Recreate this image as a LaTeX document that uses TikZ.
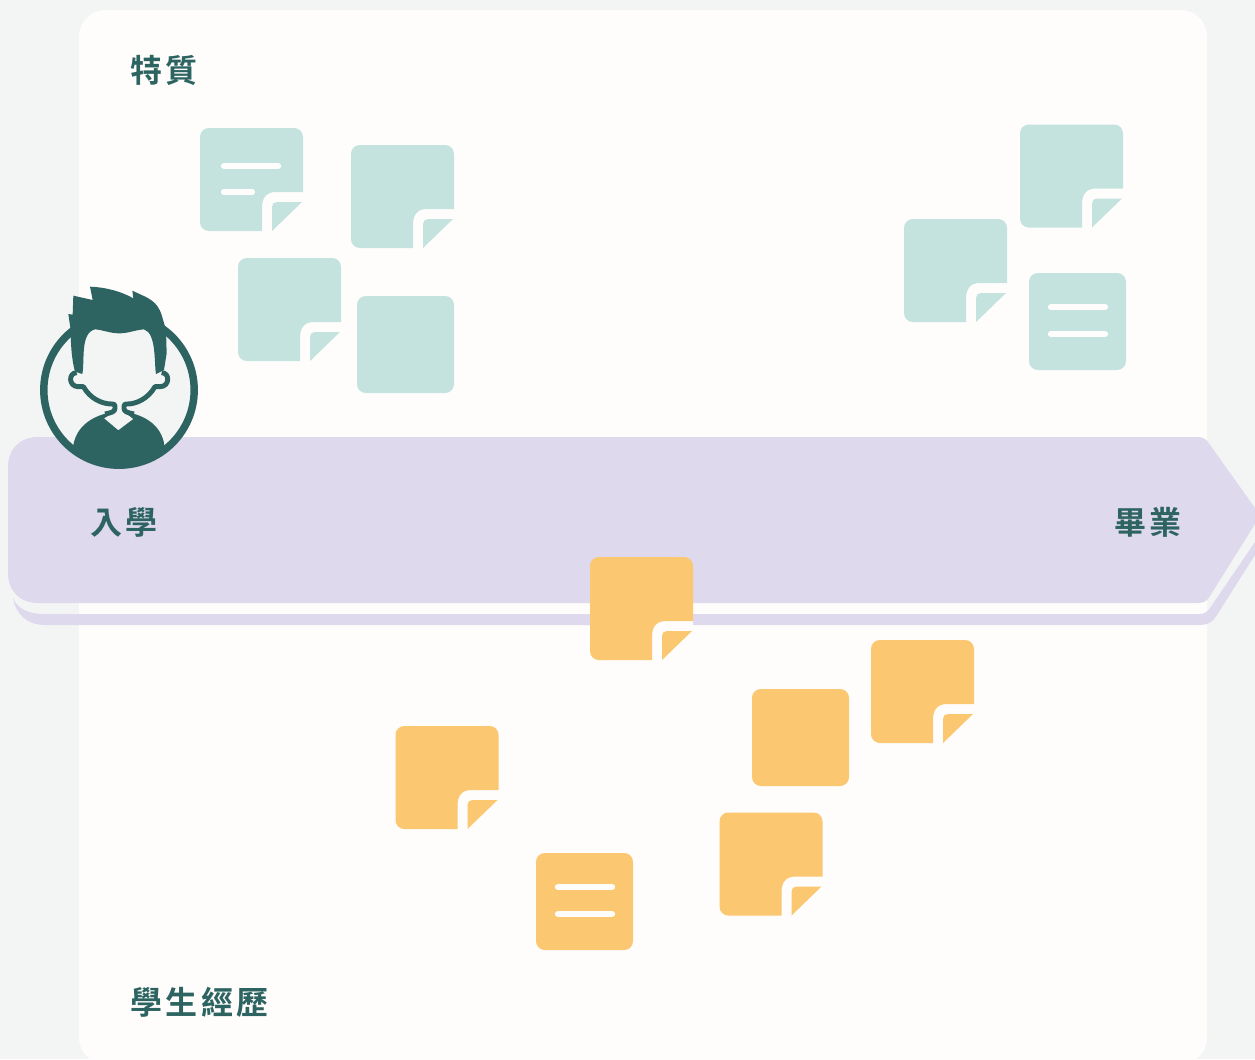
\documentclass[tikz,border=0pt]{standalone}
\usepackage{fontspec}
\newfontfamily\cjk[LetterSpace=11]{Noto Sans CJK TC Bold}
\definecolor{bgcolor}{HTML}{F3F5F4}
\definecolor{cardcolor}{HTML}{FEFDFB}
\definecolor{bandcolor}{HTML}{DED9ED}
\definecolor{tealnote}{HTML}{C4E3DE}
\definecolor{orangenote}{HTML}{FCC771}
\definecolor{darkteal}{HTML}{2D6461}
\tikzset{
	label/.style={text=darkteal, font=\cjk\fontsize{18.2}{18.2}\selectfont, anchor=west, inner sep=0pt},
	bar/.style={line width=3.6pt, line cap=round, draw=cardcolor},
	pics/foldnote/.style={code={
		\fill[cardcolor] (60,64) -- (103,64) -- (103,74) -- (72,104) -- (60,104) -- cycle;
		\fill[#1] (103,64) [rounded corners=5pt] -- (103,0) -- (0,0) -- (0,103) [sharp corners] -- (62,103)
			-- (62,80) .. controls (62,70) and (66,64) .. (76,64) -- cycle;
		\fill[#1] (72,103) -- (72,79) .. controls (72,76) and (74,74) .. (77,74) -- (102,74) -- cycle;
	}},
	pics/plainnote/.style={code={
		\fill[#1, rounded corners=5pt] (0,0) rectangle (97,97);
	}},
	pics/textnote/.style={code={
		\fill[#1, rounded corners=5pt] (0,0) rectangle (97,97);
		\draw[bar] (22,34) -- (76,34);
		\draw[bar] (22,61) -- (76,61);
	}},
}
\begin{document}
\begin{tikzpicture}[x=0.02cm, y=-0.02cm, line join=round]
	\useasboundingbox (0,0) rectangle (1255,1059);
	% Nen va the
	\fill[bgcolor] (0,0) rectangle (1255,1059);
	\fill[cardcolor, rounded corners=15pt] (79,10) rectangle (1207,1064);

	% Dai mui ten
	\fill[bandcolor] (13,598) .. controls (16,615) and (28,625) .. (45,625) -- (1200,625)
		.. controls (1207,625) and (1212,622) .. (1215,618) -- (1255,555) -- (1255,542) -- (1210,608)
		.. controls (1207,612) and (1204,614) .. (1200,614) -- (45,614)
		.. controls (30,614) and (18,610) .. (13,598) -- cycle;
	\fill[bandcolor] (38,437) -- (1197,437) .. controls (1202,437) and (1205,438) .. (1208,442)
		-- (1255,508) -- (1255,524) -- (1210,596)
		.. controls (1207,601) and (1204,603) .. (1198,603) -- (38,603)
		.. controls (20,603) and (8,591) .. (8,573) -- (8,467)
		.. controls (8,449) and (20,437) .. (38,437) -- cycle;

	% Cac the xanh
	\pic at (200,128) {foldnote=tealnote};
	\draw[bar] (224,166) -- (278,166);
	\draw[bar] (224,192) -- (252,192);
	\pic at (351,145) {foldnote=tealnote};
	\pic at (238,258) {foldnote=tealnote};
	\pic at (357,296) {plainnote=tealnote};
	\pic at (1020,124.5) {foldnote=tealnote};
	\pic at (904,219) {foldnote=tealnote};
	\pic at (1029,273) {textnote=tealnote};

	% Cac the cam
	\pic at (590,557) {foldnote=orangenote};
	\pic at (871,640) {foldnote=orangenote};
	\pic at (395.5,726) {foldnote=orangenote};
	\pic at (719.5,812.5) {foldnote=orangenote};
	\pic at (752,689) {plainnote=orangenote};
	\pic at (536,853) {textnote=orangenote};

	% Hinh dai dien
	\fill[bgcolor] (119,390) circle (75);
	\begin{scope}
		\clip (119,390) circle (76);
		\begin{scope}[shift={(20,270)}, scale=1/3]
			\fill[darkteal] (160,525) .. controls (170,470) and (215,435) .. (285,425)
				-- (252,445) -- (295,481) -- (340,447) -- (312,425)
				.. controls (380,435) and (425,470) .. (433,525) -- (433,620) -- (160,620) -- cycle;
		\end{scope}
	\end{scope}
	\draw[darkteal, line width=4.25pt] (119,390) circle (75.2);
	\begin{scope}[shift={(20,270)}, scale=1/3]
		\draw[darkteal, line width=2.8pt] (170,308) .. controls (145,308) and (145,350) .. (175,350) -- (190,350)
			.. controls (210,385) and (245,402) .. (275,402) .. controls (285,402) and (285,405) .. (285,415)
			.. controls (285,425) and (275,428) .. (255,432);
		\draw[darkteal, line width=2.8pt] (425,308) .. controls (450,308) and (450,350) .. (420,350) -- (405,350)
			.. controls (385,385) and (350,402) .. (322,402) .. controls (312,402) and (312,405) .. (312,415)
			.. controls (312,425) and (322,428) .. (342,432);
		\fill[darkteal] (152,180) -- (145,132) -- (158,134) -- (160,77) -- (218,90) -- (210,50)
			.. controls (260,52) and (305,65) .. (340,85) -- (337,62)
			.. controls (385,85) and (410,90) .. (425,135)
			-- (438,180) -- (440,250) -- (432,300) -- (408,312)
			.. controls (402,280) and (410,190) .. (372,178)
			.. controls (345,180) and (325,190) .. (298,190)
			.. controls (270,190) and (250,180) .. (225,178)
			.. controls (180,190) and (195,270) .. (187,312) -- (165,305)
			.. controls (155,270) and (152,220) .. (152,180) -- cycle;
	\end{scope}

	% Nhan
	\node[label] (traits) at (130,70.5) {特質};
	\node[label] (enroll) at (90,522.5) {入學};
	\node[label] (graduate) at (1114,522.5) {畢業};
	\node[label] (history) at (130,1002.5) {學生經歷};
\end{tikzpicture}
\end{document}
